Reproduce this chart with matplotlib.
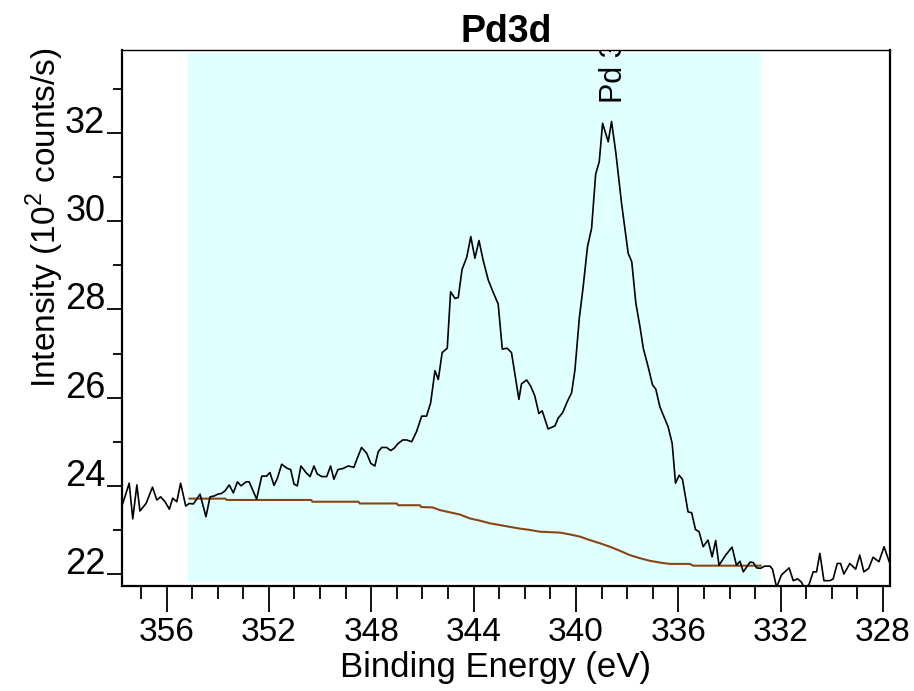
import matplotlib
matplotlib.use("Agg")
import matplotlib.pyplot as plt
from matplotlib.ticker import MultipleLocator

plt.rcParams['font.family'] = ['Liberation Sans', 'DejaVu Sans']
plt.rcParams['mathtext.fontset'] = 'custom'
plt.rcParams['mathtext.rm'] = 'Liberation Sans'

# Espectro Pd3d (energía de enlace en eV, intensidad en 10^2 cuentas/s)
energia = [357.71, 357.46, 357.32, 357.16, 357.04, 356.80, 356.55, 356.38, 356.23, 356.06,
           355.89, 355.76, 355.60, 355.45, 355.25, 355.12, 354.95, 354.69, 354.46, 354.30,
           354.14, 354.00, 353.84, 353.71, 353.55, 353.39, 353.23, 353.09, 352.89, 352.77,
           352.48, 352.28, 352.09, 351.96, 351.80, 351.67, 351.50, 351.30, 351.15, 351.02,
           350.89, 350.75, 350.55, 350.39, 350.24, 350.11, 349.94, 349.74, 349.59, 349.46,
           349.30, 349.12, 348.90, 348.68, 348.55, 348.38, 348.18, 348.02, 347.86, 347.73,
           347.59, 347.40, 347.24, 347.11, 346.95, 346.77, 346.62, 346.42, 346.23, 346.03,
           345.84, 345.68, 345.51, 345.38, 345.23, 345.03, 344.90, 344.73, 344.60, 344.45,
           344.27, 344.11, 343.95, 343.79, 343.63, 343.43, 343.26, 343.04, 342.88, 342.69,
           342.52, 342.23, 342.13, 341.93, 341.77, 341.61, 341.45, 341.32, 341.09, 340.82,
           340.70, 340.52, 340.34, 340.17, 340.04, 339.87, 339.72, 339.55, 339.39, 339.23,
           339.09, 338.96, 338.74, 338.61, 338.44, 338.22, 337.96, 337.82, 337.66, 337.50,
           337.37, 337.18, 337.01, 336.88, 336.72, 336.40, 336.24, 336.11, 335.97, 335.84,
           335.62, 335.48, 335.33, 335.19, 335.03, 334.84, 334.68, 334.54, 334.41, 334.15,
           333.90, 333.73, 333.59, 333.46, 333.20, 333.07, 332.94, 332.79, 332.62, 332.42,
           332.32, 332.16, 331.97, 331.67, 331.51, 331.34, 331.19, 331.06, 330.89, 330.73,
           330.60, 330.47, 330.31, 330.08, 329.95, 329.79, 329.66, 329.53, 329.30, 329.07,
           328.91, 328.75, 328.56, 328.39, 328.16, 327.96, 327.76]
intensidad = [23.60, 24.06, 23.25, 24.02, 23.43, 23.60, 23.97, 23.68, 23.75, 23.64,
              23.47, 23.72, 23.64, 24.06, 23.54, 23.60, 23.59, 23.81, 23.30, 23.75,
              23.77, 23.81, 23.83, 23.89, 24.02, 23.84, 24.09, 24.00, 24.09, 24.09,
              23.70, 24.22, 24.22, 24.30, 24.01, 24.17, 24.49, 24.40, 24.37, 24.04,
              24.00, 24.45, 24.30, 24.21, 24.45, 24.27, 24.21, 24.21, 24.45, 24.15,
              24.37, 24.39, 24.45, 24.42, 24.62, 24.87, 24.74, 24.51, 24.45, 24.77,
              24.87, 24.87, 24.80, 24.85, 24.96, 25.04, 25.04, 25.00, 25.23, 25.58,
              25.58, 25.88, 26.61, 26.41, 27.02, 27.12, 28.40, 28.25, 28.27, 28.91,
              29.18, 29.65, 29.16, 29.56, 29.12, 28.67, 28.42, 28.12, 27.10, 27.12,
              27.02, 25.96, 26.31, 26.40, 26.26, 26.04, 25.64, 25.70, 25.29, 25.36,
              25.53, 25.66, 25.91, 26.11, 26.63, 27.80, 28.51, 29.42, 29.84, 31.07,
              31.35, 32.22, 31.80, 32.26, 31.54, 30.41, 29.27, 29.08, 28.14, 27.61,
              27.12, 26.70, 26.29, 26.19, 25.79, 25.34, 24.96, 24.06, 24.24, 24.15,
              23.41, 23.39, 23.01, 22.96, 22.62, 22.77, 22.39, 22.76, 22.20, 22.43,
              22.61, 22.20, 22.29, 22.05, 22.27, 22.26, 22.14, 22.13, 22.18, 22.18,
              22.11, 21.70, 21.98, 22.14, 21.85, 21.89, 21.82, 21.66, 21.77, 22.05,
              22.05, 22.47, 21.85, 21.85, 21.89, 22.24, 22.24, 22.00, 22.24, 22.11,
              22.43, 22.05, 22.13, 22.38, 22.28, 22.62, 22.28]

# Fondo (Shirley) dentro de la región de ajuste
fondo_e = [355.10, 353.70, 353.65, 350.35, 350.30, 348.50, 348.45, 347.00, 346.95, 346.10,
           346.05, 345.60, 345.32, 344.93, 344.54, 344.14, 343.75, 343.36, 342.97, 342.58,
           342.19, 341.80, 341.41, 341.02, 340.63, 340.25, 339.85, 339.46, 339.07, 338.68,
           338.29, 337.90, 337.50, 337.11, 336.72, 336.33, 335.55, 335.42, 332.78]
fondo_i = [23.71, 23.71, 23.68, 23.68, 23.64, 23.64, 23.60, 23.60, 23.56, 23.56,
           23.52, 23.51, 23.45, 23.40, 23.35, 23.26, 23.21, 23.15, 23.11, 23.07,
           23.03, 23.00, 22.96, 22.95, 22.94, 22.90, 22.85, 22.77, 22.70, 22.62,
           22.53, 22.43, 22.36, 22.30, 22.26, 22.23, 22.23, 22.19, 22.19]

# Región de ajuste y etiqueta del pico
region = [355.17, 332.78]
etiqueta = "Pd 3d"
pos_etiqueta = (338.52, 32.68)

fig = plt.figure(figsize=(9.14, 6.91), dpi=100)
ax = fig.add_axes([0.1335, 0.152, 0.8402, 0.7756])

ax.fill_between(region, 21.81, 33.81, color='#E0FFFF', linewidth=0, zorder=0)
ax.plot(fondo_e, fondo_i, color='#8B4513', linewidth=1.5, zorder=2)
ax.plot(energia, intensidad, color='black', linewidth=1.2, zorder=3)
ax.text(pos_etiqueta[0], pos_etiqueta[1], etiqueta, rotation=90, ha='center', va='bottom',
        fontsize=22, clip_on=True)

ax.set_xlim(357.74, 327.73)
ax.set_ylim(21.73, 33.88)

ax.xaxis.set_major_locator(MultipleLocator(4))
ax.xaxis.set_minor_locator(MultipleLocator(1))
ax.yaxis.set_major_locator(MultipleLocator(2))
ax.yaxis.set_minor_locator(MultipleLocator(1))

ax.tick_params(axis='x', which='major', direction='out', length=19, width=1.3, labelsize=24, pad=3)
ax.tick_params(axis='x', which='minor', direction='out', length=9, width=1.3)
ax.tick_params(axis='y', which='major', direction='out', length=11, width=1.3, labelsize=26, pad=1)
ax.tick_params(axis='y', which='minor', direction='out', length=6.5, width=1.3)
for lab in ax.get_yticklabels():
    lab.set_va('baseline')

for lado in ['left', 'bottom', 'right']:
    ax.spines[lado].set_linewidth(1.6)
ax.spines['top'].set_linewidth(1.0)

ax.set_title("Pd3d", fontsize=27, fontweight='bold', pad=6)
ax.set_xlabel("Binding Energy (eV)", fontsize=25, va='center')
ax.xaxis.set_label_coords(0.486, -0.152)
ax.set_ylabel(r"Intensity (10$^2$ counts/s)", fontsize=24, va='center')
ax.yaxis.set_label_coords(-0.10, 0.687)

fig.savefig("out.png", dpi=100)
